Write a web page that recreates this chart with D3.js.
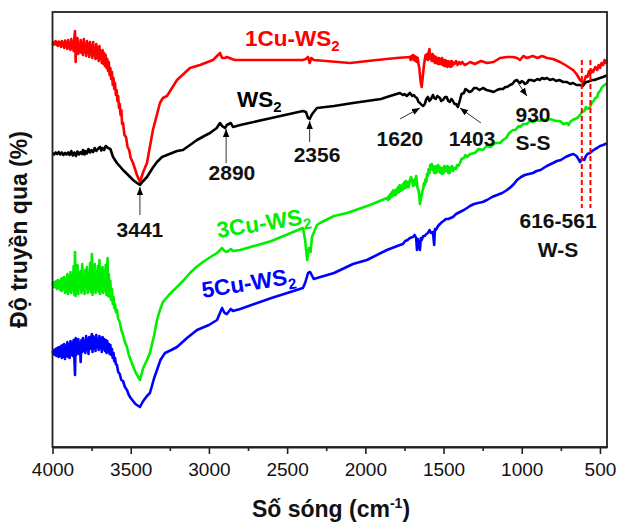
<!DOCTYPE html>
<html>
<head>
<meta charset="utf-8">
<script src="https://cdn.jsdelivr.net/npm/d3@7"></script>
<style>
  body { margin: 0; background: #fff; }
  svg { display: block; }
  text { font-family: "Liberation Sans", Arial, sans-serif; }
</style>
</head>
<body>
<svg id="chart" width="621" height="522"></svg>
<script>
// FTIR transmittance spectra, [wavenumber (cm-1), transmittance (a.u., offset per sample)]
const spec1Cu = [
  [4000,80.8],[3995,80.4],[3990,81.0],[3985,80.6],[3980,81.2],[3975,80.4],[3970,80.9],[3965,80.2],[3960,81.1],[3955,80.5],
  [3950,80.9],[3945,80.0],[3940,81.2],[3935,80.3],[3930,80.8],[3925,79.8],[3920,81.3],[3915,80.1],[3910,81.0],[3905,79.6],
  [3900,81.4],[3895,79.9],[3890,80.8],[3885,79.4],[3880,81.6],[3875,79.8],[3870,81.0],[3865,79.2],[3860,82.0],[3856,83.2],
  [3852,77.0],[3848,81.4],[3844,79.0],[3840,81.8],[3835,78.6],[3830,80.6],[3825,79.0],[3820,81.4],[3815,78.8],[3810,80.8],
  [3805,78.4],[3800,81.6],[3795,79.0],[3790,80.4],[3785,78.2],[3780,81.2],[3775,78.8],[3770,80.6],[3765,78.0],[3760,81.0],
  [3755,78.6],[3750,80.2],[3745,77.8],[3740,81.0],[3735,78.4],[3730,79.6],[3725,77.6],[3720,80.6],[3715,77.8],[3710,79.8],
  [3705,77.2],[3700,80.2],[3695,77.6],[3690,79.2],[3685,76.8],[3680,79.4],[3675,76.6],[3670,78.8],[3665,76.2],[3660,78.4],
  [3655,75.8],[3650,77.6],[3645,75.2],[3640,77.0],[3635,74.4],[3630,75.8],[3625,73.6],[3620,75.0],[3615,72.4],[3610,73.8],
  [3605,71.6],[3600,72.8],[3595,70.4],[3590,71.4],[3585,69.2],[3580,70.2],[3575,67.8],[3570,68.6],[3565,66.4],[3560,67.4],
  [3555,64.6],[3549,64.8],[3540,62.4],[3530,62.0],[3520,60.0],[3510,59.4],[3500,57.8],[3485,56.8],[3460,54.4],[3441,53.0],
  [3420,55.0],[3396,56.8],[3358,63.4],[3313,68.8],[3294,69.8],[3268,70.2],[3204,73.4],[3121,75.8],[3057,76.4],[2974,77.4],
  [2929,78.8],[2916,77.8],[2897,77.8],[2885,78.0],[2853,77.6],[2833,77.4],[2500,77.4],[2400,77.4],[2380,77.6],[2366,78.0],
  [2356,76.8],[2345,77.8],[2330,77.4],[2098,76.8],[1926,77.4],[1800,77.8],[1715,78.0],[1710,77.4],[1705,78.2],[1700,77.6],
  [1695,78.4],[1690,77.4],[1685,78.2],[1680,77.2],[1675,78.0],[1670,77.0],[1665,77.8],[1660,76.6],[1655,75.8],[1651,74.4],
  [1646,73.0],[1640,72.0],[1635,73.4],[1630,75.0],[1625,76.4],[1620,77.4],[1615,78.4],[1610,77.6],[1605,78.6],[1600,77.4],
  [1595,79.0],[1590,79.6],[1585,77.6],[1580,78.4],[1575,77.2],[1570,78.6],[1565,77.2],[1560,78.2],[1555,76.8],[1550,78.0],
  [1545,76.8],[1540,77.8],[1535,76.6],[1530,77.8],[1525,76.6],[1520,77.6],[1515,76.6],[1510,77.8],[1505,76.4],[1500,77.4],
  [1495,76.2],[1490,77.4],[1485,76.2],[1480,77.2],[1475,76.0],[1470,77.2],[1465,76.2],[1460,77.0],[1455,76.0],[1450,77.2],
  [1445,76.2],[1440,77.0],[1430,76.6],[1420,77.2],[1410,76.4],[1400,77.0],[1390,76.6],[1380,77.0],[1365,76.4],[1350,76.6],
  [1330,77.0],[1300,76.6],[1260,77.2],[1222,76.8],[1180,77.0],[1139,77.8],[1094,78.0],[1056,78.0],[1030,77.8],[1011,77.4],
  [990,78.2],[967,77.8],[930,78.2],[900,77.8],[870,78.2],[839,77.8],[800,77.6],[755,77.0],[711,76.2],[672,75.4],
  [650,74.6],[627,73.4],[610,72.8],[600,73.2],[590,74.2],[580,74.0],[570,75.2],[563,74.4],[554,75.4],[544,75.0],
  [530,76.0],[518,75.4],[508,76.4],[499,75.8],[490,76.8],[480,76.4],[470,77.4],[462,76.8],[455,77.4]
];

const specWS2 = [
  [4000,58.8],[3990,58.5],[3980,58.9],[3970,58.6],[3960,59.0],[3950,58.5],[3940,58.9],[3930,58.4],[3920,58.8],[3910,58.5],
  [3900,58.9],[3890,58.4],[3880,59.2],[3870,58.3],[3860,58.9],[3850,58.2],[3840,59.1],[3830,58.5],[3820,59.0],[3810,58.6],
  [3805,59.4],[3795,58.5],[3790,59.2],[3780,58.7],[3770,59.6],[3760,58.9],[3750,59.4],[3740,59.0],[3730,59.8],[3720,59.2],
  [3710,59.6],[3696,60.0],[3688,59.3],[3680,59.8],[3670,59.4],[3660,60.2],[3645,59.8],[3630,59.6],[3613,58.0],[3588,56.8],
  [3549,55.4],[3510,54.2],[3485,53.4],[3460,52.8],[3441,52.4],[3420,53.2],[3396,54.0],[3360,55.8],[3332,57.0],[3300,58.0],
  [3268,58.4],[3204,59.2],[3166,59.4],[3121,60.4],[3076,61.4],[3030,62.2],[2993,62.8],[2950,63.8],[2929,64.8],[2916,64.2],
  [2897,63.8],[2885,64.4],[2860,64.8],[2846,64.0],[2800,64.4],[2600,65.8],[2399,67.2],[2380,67.0],[2366,65.8],[2356,65.6],
  [2340,66.6],[2309,67.8],[2200,68.2],[2079,68.8],[1900,69.6],[1862,70.0],[1800,70.6],[1779,70.8],[1760,70.4],[1750,70.6],
  [1735,70.2],[1715,70.8],[1700,70.2],[1690,70.4],[1680,70.0],[1670,69.8],[1660,69.0],[1651,68.8],[1640,68.4],[1630,68.2],
  [1620,68.6],[1610,69.6],[1600,70.0],[1590,69.2],[1580,69.6],[1568,70.4],[1560,69.8],[1550,69.6],[1540,70.2],[1523,69.8],
  [1515,69.2],[1504,69.4],[1490,70.0],[1480,70.0],[1470,69.2],[1460,69.0],[1450,69.6],[1440,69.2],[1430,68.6],[1420,68.6],
  [1408,68.0],[1395,69.4],[1385,70.6],[1370,70.8],[1360,71.6],[1350,71.4],[1335,71.0],[1320,71.2],[1305,71.8],[1290,71.8],
  [1270,71.4],[1248,71.8],[1225,71.4],[1200,71.2],[1180,71.0],[1158,71.4],[1140,71.6],[1120,71.6],[1105,72.0],[1094,72.0],
  [1075,72.4],[1060,72.6],[1045,73.2],[1030,73.4],[1020,73.0],[1011,72.8],[1000,73.2],[990,73.0],[978,72.6],[967,72.8],
  [955,73.4],[940,73.4],[920,73.2],[900,73.6],[885,73.4],[870,73.8],[855,73.6],[839,73.8],[820,73.4],[800,73.6],
  [780,73.2],[760,73.4],[735,73.0],[711,73.0],[690,72.6],[672,72.8],[650,72.4],[627,72.4],[610,72.2],[600,72.6],
  [590,73.0],[580,73.0],[565,73.2],[550,73.4],[535,73.4],[518,73.6],[500,73.8],[480,74.0],[465,74.2],[455,74.4]
];

const spec3Cu = [
  [4000,32.4],[3995,32.9],[3990,32.0],[3985,33.0],[3980,31.9],[3975,33.2],[3970,31.6],[3965,33.4],[3960,31.8],[3955,33.0],
  [3950,31.4],[3945,33.6],[3940,31.2],[3935,33.8],[3930,31.6],[3925,34.0],[3920,30.8],[3915,33.4],[3910,31.0],[3905,34.6],
  [3900,30.6],[3895,34.0],[3890,31.2],[3885,35.0],[3880,30.8],[3875,34.2],[3870,31.4],[3865,36.2],[3860,30.4],[3856,39.0],
  [3852,30.2],[3848,35.6],[3844,31.0],[3840,36.4],[3835,30.6],[3830,34.8],[3825,31.8],[3820,35.2],[3815,30.8],[3810,36.6],
  [3805,31.4],[3800,34.0],[3795,30.6],[3790,35.4],[3785,31.8],[3780,36.0],[3775,30.8],[3770,34.6],[3765,31.6],[3760,36.8],
  [3755,31.0],[3748,38.6],[3744,30.4],[3740,35.8],[3735,31.6],[3730,36.6],[3725,30.8],[3720,35.0],[3715,31.4],[3710,36.2],
  [3705,31.0],[3700,37.4],[3695,30.6],[3690,35.6],[3685,31.2],[3680,36.0],[3675,30.8],[3670,35.2],[3665,31.4],[3660,36.4],
  [3655,30.4],[3648,37.8],[3644,30.2],[3640,34.6],[3635,30.0],[3630,33.2],[3625,29.4],[3620,31.6],[3615,28.6],[3610,30.0],
  [3605,27.8],[3600,28.6],[3595,27.0],[3588,27.4],[3580,25.6],[3570,25.0],[3560,23.4],[3549,22.4],[3537,21.0],[3524,20.0],
  [3512,18.4],[3500,17.4],[3470,15.0],[3441,13.4],[3420,15.8],[3396,17.4],[3377,18.8],[3350,22.4],[3332,25.4],[3313,27.4],
  [3294,29.0],[3250,30.6],[3204,32.0],[3160,33.4],[3121,34.8],[3080,36.0],[3038,37.0],[2990,38.0],[2948,38.8],[2916,39.8],
  [2900,39.2],[2885,39.0],[2860,39.6],[2846,39.2],[2800,39.4],[2600,41.2],[2399,43.8],[2385,41.4],[2372,37.4],[2366,38.8],
  [2360,39.8],[2350,39.0],[2341,42.0],[2309,44.4],[2290,44.8],[2200,46.2],[2117,46.8],[1970,48.4],[1862,49.8],[1855,49.4],
  [1850,50.2],[1845,49.6],[1840,50.6],[1835,50.0],[1830,51.0],[1825,50.2],[1820,51.4],[1815,50.4],[1810,51.2],[1805,50.4],
  [1800,51.6],[1795,50.8],[1790,52.0],[1785,51.0],[1780,52.4],[1775,51.2],[1770,52.0],[1765,51.4],[1760,52.6],[1755,51.6],
  [1750,53.0],[1745,51.8],[1740,53.2],[1734,52.0],[1728,53.0],[1722,52.0],[1715,53.4],[1708,54.0],[1700,53.2],[1695,52.2],
  [1690,53.4],[1685,52.4],[1680,53.6],[1675,54.2],[1670,52.8],[1665,51.6],[1660,51.4],[1655,50.2],[1651,48.6],[1645,49.6],
  [1640,50.4],[1635,51.2],[1630,51.6],[1625,52.8],[1620,52.4],[1615,53.6],[1610,53.0],[1606,54.6],[1600,54.2],[1595,55.6],
  [1590,54.8],[1585,56.4],[1580,55.6],[1575,56.6],[1570,55.4],[1565,56.2],[1560,54.8],[1555,56.0],[1550,54.8],[1545,56.2],
  [1540,55.0],[1535,56.4],[1530,55.2],[1525,56.0],[1520,54.8],[1515,55.8],[1510,54.6],[1505,55.8],[1500,54.8],[1495,56.2],
  [1490,55.2],[1485,56.0],[1480,55.2],[1475,56.2],[1470,54.8],[1465,55.8],[1460,54.8],[1455,56.0],[1450,55.4],[1445,56.2],
  [1440,55.2],[1430,55.8],[1420,55.6],[1414,56.4],[1405,56.2],[1395,56.8],[1385,57.6],[1370,57.8],[1360,58.4],[1350,58.0],
  [1330,58.6],[1300,58.8],[1275,59.6],[1248,59.4],[1225,60.2],[1200,60.0],[1170,60.8],[1139,60.8],[1120,61.4],[1100,61.8],
  [1080,62.8],[1056,63.4],[1040,63.4],[1020,64.2],[1011,64.0],[990,64.6],[967,64.6],[950,65.2],[928,65.0],[905,65.4],
  [880,65.2],[860,65.6],[840,65.2],[820,65.6],[800,65.4],[780,65.2],[755,65.2],[735,64.6],[711,64.8],[700,64.4],
  [691,65.0],[675,65.4],[660,65.6],[645,65.8],[627,66.4],[615,67.0],[600,67.2],[590,68.0],[580,67.6],[563,68.0],
  [550,69.0],[540,69.2],[530,69.8],[518,70.0],[508,71.0],[499,71.2],[490,71.8],[480,72.2],[470,72.4],[462,72.6],[455,72.8]
];

const spec5Cu = [
  [4000,18.8],[3995,19.3],[3990,18.5],[3985,19.5],[3980,18.3],[3975,19.7],[3970,18.2],[3965,19.9],[3960,18.0],[3955,20.0],
  [3950,18.2],[3945,20.2],[3940,17.8],[3935,20.4],[3930,18.0],[3925,20.6],[3920,17.6],[3915,20.2],[3910,18.2],[3905,21.0],
  [3900,18.0],[3895,20.4],[3890,17.8],[3885,21.2],[3880,18.4],[3875,20.8],[3870,18.2],[3865,21.4],[3860,17.6],[3856,14.4],
  [3852,21.8],[3848,18.4],[3844,21.2],[3840,18.8],[3835,21.6],[3830,18.6],[3825,20.8],[3820,17.0],[3815,21.4],[3810,19.0],
  [3805,21.8],[3800,19.2],[3795,21.2],[3790,18.8],[3785,22.2],[3780,19.4],[3775,21.6],[3770,18.6],[3765,22.0],[3760,19.6],
  [3755,21.4],[3748,22.6],[3744,19.0],[3740,22.2],[3735,19.8],[3730,21.8],[3725,19.2],[3720,22.4],[3715,20.0],[3710,21.6],
  [3705,19.4],[3700,22.2],[3695,19.8],[3690,21.8],[3685,19.0],[3680,22.0],[3675,19.6],[3670,21.6],[3665,19.2],[3660,21.4],
  [3655,18.8],[3650,21.2],[3645,19.0],[3640,20.6],[3635,18.6],[3630,20.4],[3625,18.4],[3620,19.6],[3615,17.8],[3610,18.8],
  [3605,17.2],[3600,17.8],[3595,16.6],[3588,16.4],[3580,15.0],[3570,14.6],[3560,13.4],[3549,13.2],[3537,12.0],[3524,11.4],
  [3512,10.4],[3500,9.8],[3470,8.6],[3441,8.0],[3420,9.2],[3396,10.2],[3377,10.8],[3350,13.8],[3332,15.4],[3310,17.4],
  [3281,18.8],[3240,19.4],[3204,20.0],[3140,21.8],[3076,23.4],[3000,24.4],[2948,25.4],[2916,27.8],[2900,26.8],[2885,26.6],
  [2860,27.6],[2846,27.2],[2800,27.6],[2600,29.8],[2399,31.8],[2385,32.8],[2366,34.8],[2353,35.0],[2330,33.6],[2309,33.8],
  [2200,34.8],[2079,36.6],[1990,37.4],[1862,39.4],[1779,40.4],[1760,40.6],[1745,41.2],[1730,41.4],[1715,41.8],[1696,42.0],
  [1685,42.4],[1675,41.8],[1670,39.4],[1665,41.6],[1660,40.8],[1651,39.4],[1645,41.8],[1640,41.4],[1630,42.2],[1620,42.2],
  [1610,42.6],[1600,42.8],[1590,43.4],[1580,42.8],[1568,43.0],[1560,40.4],[1555,43.6],[1550,43.4],[1535,44.2],[1523,44.6],
  [1510,45.0],[1500,45.2],[1485,45.6],[1470,45.6],[1455,45.8],[1440,46.0],[1420,46.6],[1395,47.0],[1370,47.4],[1350,47.8],
  [1331,48.2],[1305,48.6],[1280,48.8],[1250,49.0],[1222,49.4],[1190,50.0],[1158,50.4],[1125,50.8],[1094,51.4],[1070,52.0],
  [1050,52.6],[1030,53.4],[1005,54.0],[980,54.4],[955,54.6],[928,54.8],[905,55.2],[880,55.4],[840,56.2],[800,56.8],
  [775,57.2],[750,57.4],[720,58.0],[691,58.4],[670,58.6],[650,58.2],[638,57.6],[627,57.0],[615,57.6],[600,57.4],
  [590,58.2],[580,58.6],[563,58.8],[550,59.2],[540,59.4],[530,59.6],[518,59.8],[500,60.2],[480,60.4],[465,60.6],[455,60.8]
];

const seriesColors = ["#ff0000", "#000000", "#00ee00", "#0000ff"];
const seriesData   = [spec1Cu, specWS2, spec3Cu, spec5Cu];

const xMajorTicks = [4000, 3500, 3000, 2500, 2000, 1500, 1000, 500];
const xMinorTicks = [3750, 3250, 2750, 2250, 1750, 1250, 750];

// peak annotations: label, arrow tip [wn, T], arrow tail [wn, T], text anchor [wn, T]
const peakLabels = [
  { text: "3441", tip: [3441, 52.0], tail: [3441, 46.4], at: [3441, 42.0] },
  { text: "2890", tip: [2890, 63.6], tail: [2890, 56.8], at: [2853, 53.4] },
  { text: "2356", tip: [2356, 65.2], tail: [2356, 61.0], at: [2309, 57.0] },
  { text: "1620", tip: [1651, 67.8], tail: [1779, 65.6], at: [1779, 60.2] },
  { text: "1403", tip: [1395, 67.8], tail: [1261, 64.8], at: [1318, 60.2] },
  { text: "930",  tip: [967, 70.2],  tail: [1024, 72.8], at: [928, 65.0] }
];
const bandLabels = [
  { text: "S-S", at: [928, 59.4] },
  { text: "616-561", at: [768, 43.8] },
  { text: "W-S", at: [768, 38.0] }
];
const wsBand = [616, 561];
const wsBandRange = [47.8, 77.4];

// curve name labels: start wavenumber, baseline T, rotation
const curveLabels = [
  { name: "1Cu-WS", sub: "2", color: "#ff0000", at: [2770, 80.2], rot: 0 },
  { name: "WS", sub: "2", color: "#000000", at: [2820, 68.0], rot: 0 },
  { name: "3Cu-WS", sub: "2", color: "#00ee00", at: [2942, 41.8], rot: -9 },
  { name: "5Cu-WS", sub: "2", color: "#0000ff", at: [3038, 29.8], rot: -9 }
];

const W = 621, H = 522;
const margin = { left: 52.5, right: 14, top: 12, bottom: 75 };

const svg = d3.select("#chart");

const x = d3.scaleLinear().domain([4000, 455]).range([margin.left, W - margin.right]);
const y = d3.scaleLinear().domain([0, 87]).range([H - margin.bottom, margin.top]);

// arrowhead
svg.append("defs").append("marker")
  .attr("id", "arrow")
  .attr("viewBox", "0 -4 10 8")
  .attr("refX", 10).attr("refY", 0)
  .attr("markerUnits", "userSpaceOnUse")
  .attr("markerWidth", 8).attr("markerHeight", 7)
  .attr("orient", "auto")
  .append("path").attr("d", "M0,-4L10,0L0,4Z").attr("fill", "#000");

const plotH = y(0) - y(87);
const plotW = x(455) - x(4000);

// spectra
const line = d3.line().x(d => x(d[0])).y(d => y(d[1]));
seriesData.forEach((data, i) => {
  svg.append("path")
    .datum(data)
    .attr("fill", "none")
    .attr("stroke", seriesColors[i])
    .attr("stroke-width", 2.6)
    .attr("stroke-linejoin", "round")
    .attr("d", line);
});

// W-S band markers
svg.selectAll(".band")
  .data(wsBand)
  .enter().append("line")
  .attr("x1", d => x(d)).attr("x2", d => x(d))
  .attr("y1", y(wsBandRange[1])).attr("y2", y(wsBandRange[0]))
  .attr("stroke", "#ff0000")
  .attr("stroke-width", 2)
  .attr("stroke-dasharray", "5,3");

// frame
svg.append("rect")
  .attr("x", x(4000)).attr("y", y(87))
  .attr("width", plotW).attr("height", plotH)
  .attr("fill", "none").attr("stroke", "#222").attr("stroke-width", 1.8);

// bottom axis
const axisG = svg.append("g").attr("transform", `translate(0,${y(0)})`);
axisG.call(d3.axisBottom(x).tickValues(xMajorTicks).tickSize(7).tickSizeOuter(0).tickPadding(9).tickFormat(d3.format("d")));
axisG.select(".domain").attr("stroke", "#222").attr("stroke-width", 2);
axisG.selectAll(".tick line").attr("stroke", "#222").attr("stroke-width", 1.6);
axisG.selectAll(".tick text")
  .attr("font-size", 19)
  .attr("font-family", "'Liberation Sans', Arial, sans-serif")
  .attr("fill", "#111");

const minorG = svg.append("g").attr("transform", `translate(0,${y(0)})`);
minorG.call(d3.axisBottom(x).tickValues(xMinorTicks).tickSize(4).tickSizeOuter(0).tickFormat(""));
minorG.select(".domain").remove();
minorG.selectAll(".tick line").attr("stroke", "#222").attr("stroke-width", 1.6);

// axis titles
const xt = svg.append("text")
  .attr("x", 331).attr("y", 517)
  .attr("text-anchor", "middle")
  .attr("font-size", 23).attr("font-weight", "bold").attr("fill", "#111");
xt.append("tspan").text("Số sóng (cm");
xt.append("tspan").attr("font-size", 14).attr("dy", -9).text("-1");
xt.append("tspan").attr("dy", 9).text(")");

svg.append("text")
  .attr("transform", `translate(27,${(y(0) + y(87)) / 2}) rotate(-90)`)
  .attr("text-anchor", "middle")
  .attr("font-size", 23).attr("font-weight", "bold").attr("fill", "#111")
  .text("Độ truyền qua (%)");

// peak arrows and labels
peakLabels.forEach(p => {
  svg.append("line")
    .attr("x1", x(p.tail[0])).attr("y1", y(p.tail[1]))
    .attr("x2", x(p.tip[0])).attr("y2", y(p.tip[1]))
    .attr("stroke", "#333").attr("stroke-width", 1)
    .attr("marker-end", "url(#arrow)");
  svg.append("text")
    .attr("x", x(p.at[0])).attr("y", y(p.at[1]))
    .attr("text-anchor", "middle")
    .attr("font-size", 21).attr("font-weight", "bold").attr("fill", "#111")
    .text(p.text);
});
bandLabels.forEach(b => {
  svg.append("text")
    .attr("x", x(b.at[0])).attr("y", y(b.at[1]))
    .attr("text-anchor", "middle")
    .attr("font-size", 21).attr("font-weight", "bold").attr("fill", "#111")
    .text(b.text);
});

// curve names
curveLabels.forEach(c => {
  const t = svg.append("text")
    .attr("transform", `translate(${x(c.at[0])},${y(c.at[1])}) rotate(${c.rot})`)
    .attr("font-size", 22.5).attr("font-weight", "bold").attr("fill", c.color);
  t.append("tspan").text(c.name);
  t.append("tspan").attr("font-size", 15).attr("dy", 5).text(c.sub);
});
</script>
</body>
</html>
